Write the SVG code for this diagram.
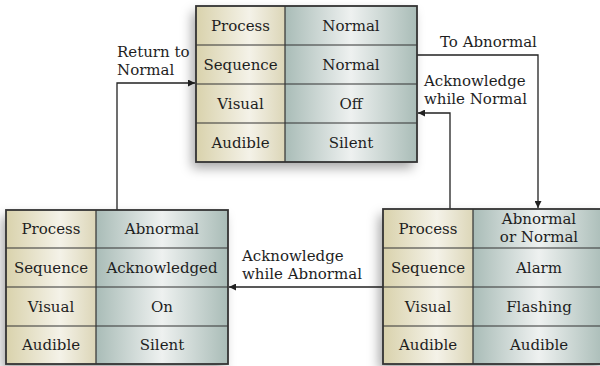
<svg xmlns="http://www.w3.org/2000/svg" width="600" height="366" viewBox="0 0 600 366">
<defs>
<linearGradient id="gl" x1="0" y1="0" x2="1" y2="0">
<stop offset="0" stop-color="#d9d2ac"/>
<stop offset="0.6" stop-color="#f4f2e8"/>
<stop offset="1" stop-color="#dcd6b8"/>
</linearGradient>
<linearGradient id="gv" x1="0" y1="0" x2="1" y2="0">
<stop offset="0" stop-color="#a9bcb7"/>
<stop offset="0.5" stop-color="#eef1f0"/>
<stop offset="1" stop-color="#a9bcb7"/>
</linearGradient>
<filter id="sh" x="-20%" y="-20%" width="140%" height="140%">
<feDropShadow dx="-4" dy="6" stdDeviation="6" flood-color="#000" flood-opacity="0.35"/>
</filter>
<marker id="ah" viewBox="0 0 10 10" refX="10" refY="5" markerWidth="9" markerHeight="7" markerUnits="userSpaceOnUse" orient="auto">
<path d="M0,0 L10,5 L0,10 z" fill="#222"/>
</marker>
<style>
.t{font-family:"DejaVu Serif","Liberation Serif",serif;font-size:15px;fill:#1e1e1e;text-anchor:middle}
.a{font-family:"DejaVu Serif","Liberation Serif",serif;font-size:15px;fill:#1e1e1e}
.ln{stroke:#333;stroke-width:1.2;fill:none}
.bd{stroke:#333;stroke-width:1.8;fill:none}
.c{stroke:#222;stroke-width:1.3;fill:none;marker-end:url(#ah)}
</style>
</defs>

<g id="connectors">
<polyline class="c" points="417,55 538,55 538,208"/>
<polyline class="c" points="450,209 450,113 418,113"/>
<polyline class="c" points="117,210 117,83 195,83"/>
<line class="c" x1="383" y1="287" x2="229" y2="287"/>
<text class="a" x="117" y="57">Return to</text>
<text class="a" x="117" y="75">Normal</text>
<text class="a" x="440" y="47">To Abnormal</text>
<text class="a" x="424" y="86">Acknowledge</text>
<text class="a" x="424" y="104">while Normal</text>
<text class="a" x="242" y="261">Acknowledge</text>
<text class="a" x="242" y="279">while Abnormal</text>
</g>

<g id="state-normal">
<rect x="196" y="6" width="221" height="156" fill="#fff" filter="url(#sh)"/>
<rect x="196" y="6" width="89" height="156" fill="url(#gl)"/>
<rect x="285" y="6" width="132" height="156" fill="url(#gv)"/>
<path class="ln" d="M196,45 H417 M196,84 H417 M196,123 H417 M285,6 V162"/>
<rect class="bd" x="196" y="6" width="221" height="156"/>
<text class="t" x="240.5" y="31">Process</text>
<text class="t" x="351" y="31">Normal</text>
<text class="t" x="240.5" y="70">Sequence</text>
<text class="t" x="351" y="70">Normal</text>
<text class="t" x="240.5" y="109">Visual</text>
<text class="t" x="351" y="109">Off</text>
<text class="t" x="240.5" y="148">Audible</text>
<text class="t" x="351" y="148">Silent</text>
</g>

<g id="state-acknowledged">
<rect x="6" y="210" width="222" height="154" fill="#fff" filter="url(#sh)"/>
<rect x="6" y="210" width="90" height="154" fill="url(#gl)"/>
<rect x="96" y="210" width="132" height="154" fill="url(#gv)"/>
<path class="ln" d="M6,248 H228 M6,287 H228 M6,326 H228 M96,210 V364"/>
<rect class="bd" x="6" y="210" width="222" height="154"/>
<text class="t" x="51" y="234">Process</text>
<text class="t" x="162" y="234">Abnormal</text>
<text class="t" x="51" y="273">Sequence</text>
<text class="t" x="162" y="273">Acknowledged</text>
<text class="t" x="51" y="312">Visual</text>
<text class="t" x="162" y="312">On</text>
<text class="t" x="51" y="350">Audible</text>
<text class="t" x="162" y="350">Silent</text>
</g>

<g id="state-alarm">
<rect x="383" y="209" width="222" height="155" fill="#fff" filter="url(#sh)"/>
<rect x="383" y="209" width="90" height="155" fill="url(#gl)"/>
<rect x="473" y="209" width="132" height="155" fill="url(#gv)"/>
<path class="ln" d="M383,248 H605 M383,287 H605 M383,326 H605 M473,209 V364"/>
<rect class="bd" x="383" y="209" width="222" height="155"/>
<text class="t" x="428" y="234">Process</text>
<text class="t" x="539" y="224">Abnormal</text>
<text class="t" x="539" y="242">or Normal</text>
<text class="t" x="428" y="273">Sequence</text>
<text class="t" x="539" y="273">Alarm</text>
<text class="t" x="428" y="312">Visual</text>
<text class="t" x="539" y="312">Flashing</text>
<text class="t" x="428" y="350">Audible</text>
<text class="t" x="539" y="350">Audible</text>
</g>
</svg>
